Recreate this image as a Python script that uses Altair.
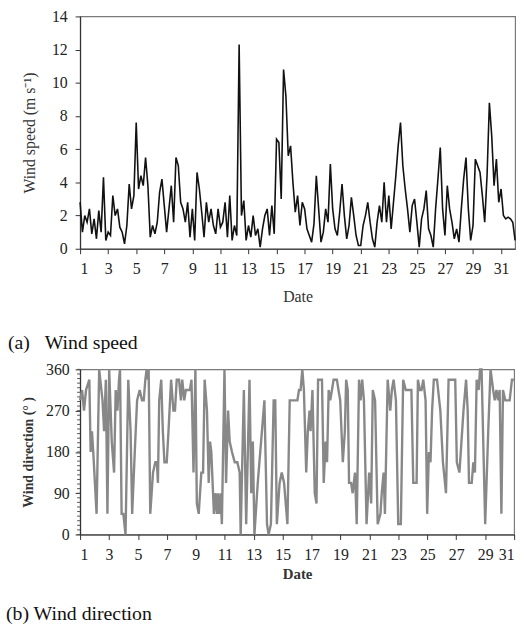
import altair as alt
import pandas as pd

FONT = "Liberation Serif"

# ---- (a) wind speed, 6 readings per day from day 1 to day 32 ----
speed = [
    2.8, 1.0, 2.0, 1.6, 2.4, 0.9,    # 1
    1.8, 0.6, 2.3, 1.0, 4.3, 0.5,    # 2
    1.0, 0.8, 3.2, 2.0, 2.4, 1.3,    # 3
    1.0, 0.3, 1.4, 3.9, 2.4, 3.2,    # 4
    7.6, 3.6, 4.4, 3.8, 5.5, 3.8,    # 5
    0.7, 1.4, 0.9, 1.6, 3.4, 4.2,    # 6
    2.6, 1.0, 2.4, 3.8, 1.6, 5.5,    # 7
    5.0, 2.8, 2.4, 1.6, 2.8, 0.7,    # 8
    2.4, 0.5, 4.6, 3.6, 2.2, 0.7,    # 9
    2.8, 1.6, 2.4, 1.4, 0.9, 2.4,    # 10
    1.3, 1.6, 2.8, 0.7, 3.2, 0.5,    # 11
    1.4, 0.8, 12.3, 2.0, 2.9, 0.5,   # 12
    1.4, 0.7, 2.0, 0.8, 1.2, 0.1,    # 13
    1.2, 2.0, 2.4, 0.8, 2.6, 0.9,    # 14
    6.6, 6.4, 3.0, 10.8, 9.2, 5.6,   # 15
    6.2, 4.0, 2.2, 3.2, 1.4, 2.8,    # 16
    2.4, 1.2, 0.8, 0.4, 1.5, 4.4,    # 17
    2.4, 0.4, 1.0, 2.4, 1.6, 5.1,    # 18
    2.4, 1.2, 0.8, 2.2, 3.9, 2.0,    # 19
    0.6, 1.4, 3.1, 2.0, 0.8, 0.2,    # 20
    0.2, 1.4, 2.0, 2.8, 1.6, 0.6,    # 21
    0.1, 1.6, 2.6, 1.6, 4.0, 1.6,    # 22
    3.2, 1.2, 2.8, 4.4, 6.2, 7.6,    # 23
    5.0, 3.6, 2.4, 1.0, 2.6, 3.0,    # 24
    1.6, 0.1, 1.8, 2.4, 3.5, 1.2,    # 25
    0.8, 0.1, 2.4, 4.2, 6.1, 2.4,    # 26
    0.8, 3.8, 2.4, 1.6, 0.6, 1.2,    # 27
    0.4, 2.4, 4.2, 5.5, 2.4, 0.5,    # 28
    1.4, 5.4, 5.0, 4.6, 3.2, 1.6,    # 29
    4.4, 8.8, 6.8, 3.8, 5.4, 2.8,    # 30
    3.6, 2.0, 1.8, 1.9, 1.8, 1.6,    # 31
    0.5,
]
speed_day = [1 + i / 6 for i in range(len(speed))]

# ---- (b) wind direction ----
dir_day = [
    1.00, 1.14, 1.27, 1.41, 1.64, 1.73, 1.82, 1.91, 2.14, 2.32, 2.55, 2.66, 2.78, 2.89,
    3.01, 3.19, 3.35, 3.46, 3.58, 3.69, 3.76, 3.87, 3.99, 4.14, 4.33, 4.49, 4.60, 4.78,
    4.94, 5.12, 5.28, 5.40, 5.51, 5.60, 5.69, 5.74, 5.85, 6.04, 6.20, 6.31, 6.38, 6.47,
    6.61, 6.72, 6.83, 6.99, 7.11, 7.29, 7.45, 7.56, 7.68, 7.84, 7.97, 8.06, 8.20, 8.31,
    8.43, 8.59, 8.70, 8.84, 8.97, 9.07, 9.20, 9.38, 9.50, 9.61, 9.77, 9.89, 9.98, 10.07,
    10.25, 10.34, 10.46, 10.52, 10.62, 10.71, 10.80, 10.98,
    11.09, 11.23, 11.34, 11.50, 11.69, 11.87, 12.03, 12.10, 12.32, 12.48, 12.71, 12.83,
    12.94, 13.05, 13.28, 13.51, 13.74, 13.92, 14.03, 14.19, 14.38, 14.49, 14.60, 14.79,
    14.94, 15.10, 15.33, 15.49, 16.02, 16.13, 16.24, 16.36, 16.47, 16.63, 16.74, 16.86,
    16.93, 17.06, 17.22, 17.34, 17.45, 17.72, 17.84, 17.97, 18.07, 18.18, 18.29, 18.41,
    18.52, 18.75, 18.86, 18.98, 19.16, 19.30, 19.39, 19.50, 19.59, 19.73, 19.84, 20.00,
    20.12, 20.28, 20.39, 20.50, 20.62, 20.80, 20.98,
    21.12, 21.23, 21.39, 21.57, 21.76, 21.85, 21.98, 22.07, 22.26, 22.44, 22.55, 22.67,
    22.83, 22.99, 23.17, 23.33, 23.51, 23.62, 23.78, 23.90, 24.03, 24.26, 24.35, 24.49,
    24.60, 24.72, 24.88, 24.99, 25.11, 25.22, 25.33, 25.45, 25.67, 25.90, 26.08, 26.29,
    26.47, 26.93, 27.04, 27.22, 27.50, 27.68, 27.79, 27.88, 28.07, 28.18, 28.29, 28.41,
    28.55, 28.64, 28.75, 29.00, 29.21, 29.37, 29.55, 29.66, 29.78, 29.89, 30.00, 30.12,
    30.23, 30.39, 30.69, 30.85, 30.98,
]
dir_val = [
    292.5, 315, 270, 315, 337.5, 180, 225, 180, 45, 360, 292.5, 225, 337.5, 45,
    360, 202.5, 135, 315, 270, 337.5, 360, 45, 45, 0, 337.5, 225, 45, 180,
    292.5, 315, 292.5, 292.5, 337.5, 360, 337.5, 360, 45, 135, 157.5, 157.5, 112.5, 292.5,
    337.5, 225, 157.5, 157.5, 225, 337.5, 270, 270, 337.5, 337.5, 292.5, 337.5, 292.5, 315,
    315, 315, 337.5, 135, 360, 67.5, 45, 135, 135, 337.5, 270, 112.5, 202.5, 180,
    45, 90, 45, 90, 45, 90, 22.5, 360,
    112.5, 270, 202.5, 180, 157.5, 157.5, 135, 0, 315, 22.5, 337.5, 90,
    202.5, 0, 112.5, 202.5, 292.5, 22.5, 0, 22.5, 292.5, 292.5, 22.5, 112.5,
    135, 112.5, 22.5, 292.5, 292.5, 315, 315, 360, 315, 135, 225, 270,
    225, 315, 90, 67.5, 337.5, 337.5, 112.5, 202.5, 157.5, 315, 292.5, 315,
    337.5, 337.5, 315, 292.5, 157.5, 225, 337.5, 315, 112.5, 112.5, 90, 135,
    22.5, 337.5, 292.5, 337.5, 292.5, 22.5, 135,
    67.5, 315, 292.5, 22.5, 45, 90, 135, 45, 337.5, 270, 315, 337.5,
    292.5, 22.5, 22.5, 337.5, 315, 315, 315, 315, 112.5, 112.5, 337.5, 315,
    315, 337.5, 292.5, 45, 180, 157.5, 270, 337.5, 337.5, 270, 157.5, 90,
    337.5, 337.5, 157.5, 135, 270, 337.5, 270, 112.5, 112.5, 157.5, 135, 337.5,
    315, 360, 360, 22.5, 225, 360, 315, 292.5, 315, 292.5, 315, 45,
    315, 292.5, 292.5, 337.5, 337.5,
]

x_ticks_a = list(range(1, 32, 2))
y_ticks_a = list(range(0, 15, 2))
x_ticks_b = list(range(1, 32, 2))
y_ticks_b = [0, 90, 180, 270, 360]
minor_b = list(range(0, 361, 10))

df_s = pd.DataFrame({"day": speed_day, "speed": speed})
df_d = pd.DataFrame({"day": dir_day, "dir": dir_val})
df_m = pd.DataFrame({"dir": minor_b})

speed_chart = alt.Chart(df_s).mark_line(color="#111111", strokeWidth=1.6).encode(
    x=alt.X("day:Q", scale=alt.Scale(domain=[1, 32], nice=False, zero=False),
            axis=alt.Axis(values=x_ticks_a, title="Date", format="d", titleFontSize=16,
                          titleFontWeight="normal", labelPadding=7, titlePadding=12)),
    y=alt.Y("speed:Q", scale=alt.Scale(domain=[0, 14], nice=False),
            axis=alt.Axis(values=y_ticks_a, title="Wind speed (m s\u207b\u00b9)", titleFontSize=16,
                          titleFontWeight="normal", labelPadding=8, titlePadding=14)),
).properties(
    width=440, height=235,
    title=alt.TitleParams("(a)\u00a0\u00a0\u00a0Wind speed", orient="bottom", anchor="start",
                          frame="group", dx=-73, offset=29, fontSize=20, font=FONT,
                          fontWeight="normal", color="#111111"),
)

dir_line = alt.Chart(df_d).mark_line(color="#888888", strokeWidth=2.4).encode(
    x=alt.X("day:Q", scale=alt.Scale(domain=[1, 31], nice=False, zero=False),
            axis=alt.Axis(values=x_ticks_b, title="Date", format="d", titleFontSize=15,
                          titleFontWeight="bold", labelPadding=7, titlePadding=5)),
    y=alt.Y("dir:Q", scale=alt.Scale(domain=[0, 360], nice=False),
            axis=alt.Axis(values=y_ticks_b, title="Wind direction (\u00b0  )", titleFontSize=14,
                          titleFontWeight="bold", labelPadding=6, titlePadding=10)),
)
dir_minor = alt.Chart(df_m).mark_rule(color="#555555", strokeWidth=1).encode(
    y=alt.Y("dir:Q"),
    x=alt.value(-3), x2=alt.value(0),
)
dir_chart = alt.layer(dir_minor, dir_line).properties(
    width=439, height=167,
    title=alt.TitleParams("(b) Wind direction", orient="bottom", anchor="start",
                          frame="group", dx=-75, offset=22, fontSize=20, font=FONT,
                          fontWeight="normal", color="#111111"),
)

chart = alt.vconcat(speed_chart, dir_chart, spacing=7).properties(
    padding={"left": 5, "top": 4, "right": 5, "bottom": 2},
).configure_view(
    stroke="#7a7a7a", strokeWidth=1.2,
).configure_axis(
    grid=False, labelFont=FONT, titleFont=FONT, labelFontSize=16, labelColor="#222222",
    titleColor="#333333", domainColor="#333333", tickColor="#333333", tickSize=5,
    domainWidth=1.2,
)

chart.save("out.html", embed_options={"renderer": "svg", "actions": False})
